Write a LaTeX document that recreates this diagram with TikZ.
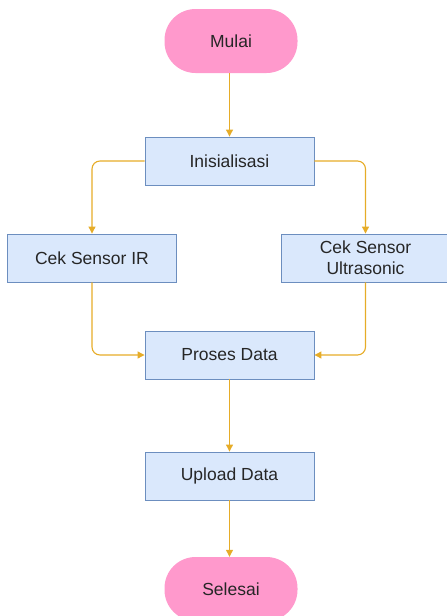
\documentclass[tikz,border=0pt]{standalone}
\usepackage{fontspec}
\setmainfont{Liberation Sans}
\usepackage{xcolor}
\usepackage{tikz}
\usetikzlibrary{positioning,arrows.meta}

\definecolor{boxfill}{RGB}{218,232,252}
\definecolor{boxline}{RGB}{108,142,191}
\definecolor{termfill}{RGB}{255,153,204}
\definecolor{flowline}{RGB}{230,172,40}

\begin{document}
\begin{tikzpicture}[x=1pt, y=-1pt,
  every node/.style={font=\fontsize{17.5}{21}\selectfont, text=black!85},
  procbox/.style={draw=boxline, fill=boxfill, line width=0.9pt, minimum width=169pt, minimum height=48pt, inner sep=0pt, align=center},
  termbox/.style={fill=termfill, rounded corners=31pt, minimum width=133pt, minimum height=64pt, inner sep=0pt},
  flow/.style={draw=flowline, line width=1.1pt, rounded corners=8pt, -{Triangle[length=7pt, width=7pt]}}]
\useasboundingbox (0,0) rectangle (447,616);
\node[termbox] (mulai) at (231,41) {Mulai};
\node[procbox] (init) at (229.5,161) {Inisialisasi};
\node[procbox] (ir) at (92,258) {Cek Sensor IR};
\node[procbox] (us) at (365.5,258) {Cek Sensor\\Ultrasonic};
\node[procbox] (proses) at (229.5,355) {Proses Data};
\node[procbox] (upload) at (229.5,476) {Upload Data};
\node[termbox] (selesai) at (231,589) {Selesai};
% alur
\draw[flow] (init.north |- mulai.south) -- (init.north);
\draw[flow] (init.west) -| (ir.north);
\draw[flow] (init.east) -| (us.north);
\draw[flow] (ir.south) |- (proses.west);
\draw[flow] (us.south) |- (proses.east);
\draw[flow] (proses) -- (upload);
\draw[flow] (upload.south) -- (upload.south |- selesai.north);
\end{tikzpicture}
\end{document}
